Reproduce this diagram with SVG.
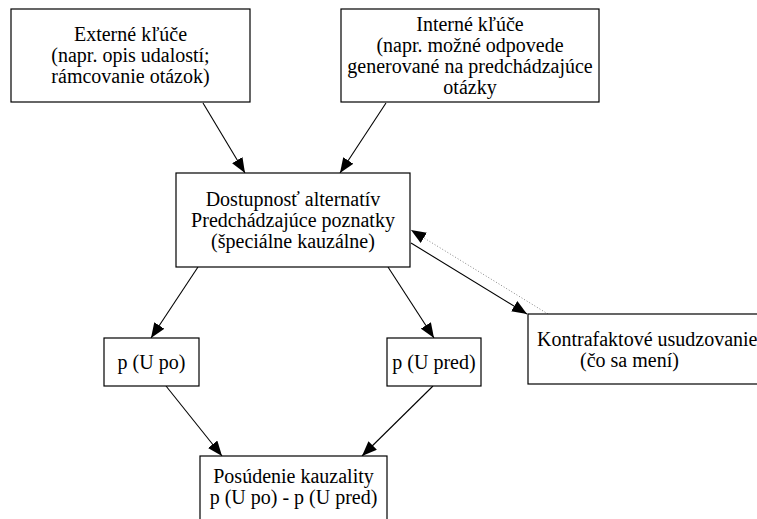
<svg xmlns="http://www.w3.org/2000/svg" width="757" height="519" viewBox="0 0 757 519">
<style>
  .box { fill: #ffffff; stroke: #000000; stroke-width: 1.2; }
  text { font-family: 'Liberation Serif', 'DejaVu Serif', serif; font-size: 20px; fill: #000000; }
  .c { text-anchor: middle; }
  .edge { stroke: #000000; stroke-width: 1.1; fill: none; }
  .dot { stroke: #888888; stroke-width: 1; stroke-dasharray: 1 2; fill: none; }
</style>
<defs>
  <marker id="ah" markerUnits="userSpaceOnUse" markerWidth="16" markerHeight="12" refX="15" refY="6" orient="auto">
    <path d="M0,0 L15,6 L0,12 z" fill="#000000"/>
  </marker>
</defs>
<rect width="757" height="519" fill="#ffffff"/>
<g id="connectors">
  <line class="edge" x1="203" y1="103" x2="245" y2="173" marker-end="url(#ah)"/>
  <line class="edge" x1="386" y1="103" x2="340" y2="173" marker-end="url(#ah)"/>
  <line class="edge" x1="198" y1="267" x2="151" y2="338" marker-end="url(#ah)"/>
  <line class="edge" x1="388" y1="267" x2="434" y2="338" marker-end="url(#ah)"/>
  <line class="edge" x1="166" y1="386" x2="222" y2="456" marker-end="url(#ah)"/>
  <line class="edge" x1="433" y1="386" x2="362" y2="456" marker-end="url(#ah)"/>
  <line class="edge" x1="411" y1="243" x2="527" y2="314" marker-end="url(#ah)"/>
  <line class="dot" x1="548" y1="314" x2="411" y2="230" marker-end="url(#ah)"/>
</g>
<g id="externe">
  <rect class="box" x="11" y="9" width="239" height="93"/>
  <text class="c" x="130.5" y="41">Externé kľúče</text>
  <text class="c" x="130.5" y="62">(napr. opis udalostí;</text>
  <text class="c" x="130.5" y="83">rámcovanie otázok)</text>
</g>
<g id="interne">
  <rect class="box" x="341" y="9" width="258" height="93"/>
  <text class="c" x="470" y="31">Interné kľúče</text>
  <text class="c" x="470" y="52">(napr. možné odpovede</text>
  <text class="c" x="470" y="73">generované na predchádzajúce</text>
  <text class="c" x="470" y="94">otázky</text>
</g>
<g id="dostupnost">
  <rect class="box" x="176" y="173" width="234" height="94"/>
  <text class="c" x="293" y="206">Dostupnosť alternatív</text>
  <text class="c" x="293" y="227">Predchádzajúce poznatky</text>
  <text class="c" x="293" y="248">(špeciálne kauzálne)</text>
</g>
<g id="kontrafaktove">
  <rect class="box" x="528" y="314" width="240" height="70"/>
  <text x="537" y="346">Kontrafaktové usudzovanie</text>
  <text x="580" y="367">(čo sa mení)</text>
</g>
<g id="upo">
  <rect class="box" x="104" y="338" width="95" height="48"/>
  <text class="c" x="151.5" y="369">p (U po)</text>
</g>
<g id="upred">
  <rect class="box" x="387" y="338" width="94" height="48"/>
  <text class="c" x="434" y="369">p (U pred)</text>
</g>
<g id="posudenie">
  <rect class="box" x="200" y="456" width="187" height="80"/>
  <text class="c" x="293.5" y="483">Posúdenie kauzality</text>
  <text class="c" x="293.5" y="504">p (U po) - p (U pred)</text>
</g>
</svg>
